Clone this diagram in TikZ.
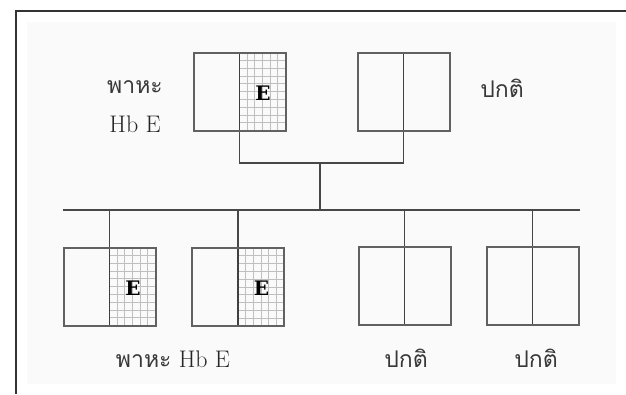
\documentclass[tikz,border=0pt]{standalone}
\usepackage{fontspec}
\newfontfamily\thaifont[Script=Thai]{Loma}
\newfontfamily\slabfont{DejaVu Serif}
\usetikzlibrary{calc}
\tikzset{
  frameline/.style={draw=black!80, line width=2pt},
  link/.style={draw=black!72, line width=1.5pt},
  gridc/.style={draw=black!25, line width=0.8pt},
  divider/.style={draw=black!75, line width=1.4pt},
  genebox/.style={draw=black!62, line width=2pt, minimum width=92pt,
    minimum height=78pt, inner sep=0pt,
    path picture={\draw[divider] (path picture bounding box.north) -- (path picture bounding box.south);}},
  carrier/.style={genebox,
    path picture={
      \foreach \i in {1,...,5}
        \draw[gridc] ($(path picture bounding box.south)!\i/6!(path picture bounding box.south east)$)
                  -- ($(path picture bounding box.north)!\i/6!(path picture bounding box.north east)$);
      \foreach \j in {1,...,9}
        \draw[gridc] ($(path picture bounding box.south)!\j/10!(path picture bounding box.north)$)
                  -- ($(path picture bounding box.south east)!\j/10!(path picture bounding box.north east)$);
      \draw[divider] (path picture bounding box.north) -- (path picture bounding box.south);}},
  elabel/.style={font=\slabfont\bfseries\fontsize{20}{20}\selectfont, inner sep=0pt},
  thailabel/.style={font=\thaifont\fontsize{23}{26}\selectfont, text=black!78, anchor=base, inner sep=0pt},
  latinlabel/.style={font=\fontsize{24}{26}\selectfont, text=black!85, anchor=base, inner sep=0pt}
}
\begin{document}
\begin{tikzpicture}[x=1pt, y=-1pt]
  \useasboundingbox (0,0) rectangle (626,394);
  % page background and frame
  \fill[white] (0,0) rectangle (626,394);
  \fill[black!2] (27,22) rectangle (616,384);
  \draw[frameline] (15.5,394) -- (15.5,10.5) -- (626,10.5);

  % parents
  \node[carrier] (p1) at (239.5,91.5) {};
  \node[genebox] (p2) at (403.5,91.5) {};
  \node[elabel] (e1) at ($(p1.center)!0.5!(p1.east)+(0,2)$) {E};

  % children
  \node[carrier] (c1) at (109.5,286.5) {};
  \node[carrier] (c2) at (238,287) {};
  \node[genebox] (c3) at (404.5,286) {};
  \node[genebox] (c4) at (532.5,286) {};
  \node[elabel] (e2) at ($(c1.center)!0.5!(c1.east)+(0,2)$) {E};
  \node[elabel] (e3) at ($(c2.center)!0.5!(c2.east)+(0,1)$) {E};

  % pedigree connectors
  \coordinate (jt) at (320,163);
  \coordinate (jb) at (320,210);
  \draw[link] (p1.south) |- (jt) -| (p2.south);
  \draw[link] (jt) -- (jb);
  \draw[link] (c1.west |- jb) -- (c4.east |- jb);
  \foreach \c in {c1,c2,c3,c4}
    \draw[link] (\c.north |- jb) -- (\c.north);

  % labels
  \node[thailabel] (t1) at (135,93) {พาหะ};
  \node[latinlabel] (t2) at (135,132) {Hb E};
  \node[thailabel] (t3) at (502,97) {ปกติ};
  \node[latinlabel] (t4) at (173,367) {{\thaifont\fontsize{23}{26}\selectfont\color{black!78}พาหะ} Hb E};
  \node[thailabel] (t5) at (406,367) {ปกติ};
  \node[thailabel] (t6) at (536,367) {ปกติ};
\end{tikzpicture}
\end{document}
